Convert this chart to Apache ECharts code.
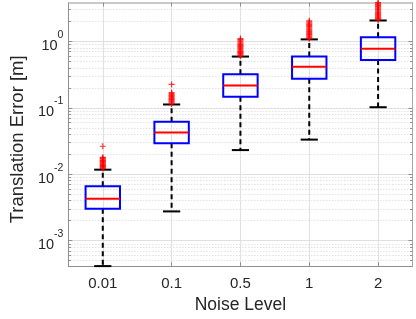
<!DOCTYPE html>
<html>
<head>
<meta charset="utf-8">
<script src="https://cdn.jsdelivr.net/npm/echarts@6/dist/echarts.min.js"></script>
<style>
html,body{margin:0;padding:0;background:#fff;}
#chart{width:416px;height:319px;}
</style>
</head>
<body>
<div id="chart"></div>
<script>
// ---- data ----
const categories = ['0.01', '0.1', '0.5', '1', '2'];
const lowerWhisker = [0.000415, 0.00276, 0.0231, 0.0332, 0.102];
const q1 = [0.00303, 0.0293, 0.147, 0.273, 0.526];
const median = [0.00429, 0.0425, 0.216, 0.415, 0.773];
const q3 = [0.00659, 0.0616, 0.321, 0.590, 1.15];
const upperWhisker = [0.01172, 0.1122, 0.590, 1.07, 2.06];
const outliers001 = [0.0122, 0.0125, 0.0128, 0.0131, 0.0134, 0.0137, 0.0140, 0.0144, 0.0148, 0.0152, 0.0156, 0.0160, 0.0165, 0.0170, 0.0175, 0.0180, 0.0264];
const outliers01 = [0.114, 0.118, 0.122, 0.126, 0.130, 0.134, 0.138, 0.143, 0.148, 0.153, 0.158, 0.164, 0.170, 0.225];
const outliers05 = [0.60, 0.62, 0.64, 0.66, 0.68, 0.70, 0.72, 0.75, 0.78, 0.81, 0.84, 0.87, 0.90, 0.94, 0.98, 1.02, 1.06, 1.10];
const outliers1 = [1.09, 1.13, 1.17, 1.21, 1.26, 1.31, 1.36, 1.41, 1.47, 1.53, 1.59, 1.66, 1.73, 1.80, 1.88, 1.96, 2.04];
const outliers2 = [2.10, 2.17, 2.24, 2.32, 2.40, 2.48, 2.57, 2.66, 2.76, 2.86, 2.97, 3.08, 3.20, 3.33, 3.46, 3.60, 3.75, 3.84];
const yTickValues = [0.001, 0.01, 0.1, 1];
const xAxisName = 'Noise Level';
const yAxisName = 'Translation Error [m]';

// ---- build ----
const outlierLists = [outliers001, outliers01, outliers05, outliers1, outliers2];
const boxData = categories.map((c, i) => [i, lowerWhisker[i], q1[i], median[i], q3[i], upperWhisker[i]]);
const outlierData = [];
outlierLists.forEach((list, i) => list.forEach(v => outlierData.push([i, v])));
const allOut = [].concat(...outlierLists);
const yMin = Math.min(...lowerWhisker);
const yMax = Math.max(...allOut);

const minorValues = [];
for (let k = -4; k <= 0; k++) {
  for (let m = 2; m <= 9; m++) {
    const v = m * Math.pow(10, k);
    if (v > yMin && v < yMax) minorValues.push(v);
  }
}

const FONT = 'Liberation Sans';
const TXT = '#262626';
const AXC = '#8f8f8f';
const GRIDC = '#e0e0e0';
const MINORC = '#d4d4d4';

function yFmt(v) {
  const e = Math.round(Math.log10(v));
  return '{b|10}{s|' + e + '}';
}

const logBase = {
  type: 'log', logBase: 10, min: yMin, max: yMax,
};

const option = {
  animation: false,
  backgroundColor: '#fff',
  grid: { left: 59.5, right: 3.5, top: 2.5, bottom: 46.5, containLabel: false },
  xAxis: [
    {
      type: 'category', data: categories, position: 'bottom', boundaryGap: true,
      name: xAxisName, nameLocation: 'middle', nameGap: 28,
      nameTextStyle: { fontFamily: FONT, fontSize: 17.5, color: TXT },
      axisLine: { show: true, lineStyle: { color: AXC, width: 1 } },
      axisTick: { show: true, inside: true, alignWithLabel: true, length: 4, lineStyle: { color: AXC } },
      axisLabel: { fontFamily: FONT, fontSize: 15, color: TXT, margin: 10 },
      splitLine: { show: true, alignWithLabel: true, lineStyle: { color: GRIDC, width: 1 } }
    },
    {
      type: 'category', data: categories, position: 'top', boundaryGap: true,
      axisLine: { show: true, lineStyle: { color: '#b8b8b8', width: 1.5 } },
      axisTick: { show: true, inside: true, alignWithLabel: true, length: 4, lineStyle: { color: AXC } },
      axisLabel: { show: false },
      splitLine: { show: false }
    }
  ],
  yAxis: [
    Object.assign({}, logBase, {
      position: 'left',
      name: yAxisName, nameLocation: 'middle', nameGap: 34, nameRotate: 90,
      nameTextStyle: { fontFamily: FONT, fontSize: 18.5, color: TXT, padding: [0, 10, 0, 0] },
      axisLine: { show: true, lineStyle: { color: AXC, width: 1 } },
      axisTick: { show: true, inside: true, length: 4, customValues: yTickValues, lineStyle: { color: AXC } },
      axisLabel: {
        customValues: yTickValues, margin: 5, formatter: yFmt, color: TXT,
        rich: {
          b: { fontFamily: FONT, fontSize: 14.5, color: TXT, lineHeight: 24, verticalAlign: 'bottom' },
          s: { fontFamily: FONT, fontSize: 10.5, color: TXT, lineHeight: 24, verticalAlign: 'top' }
        }
      },
      splitLine: { show: true, customValues: yTickValues, lineStyle: { color: GRIDC, width: 1 } }
    }),
    Object.assign({}, logBase, {
      position: 'right',
      axisLine: { show: true, lineStyle: { color: '#a8a8a8', width: 1 } },
      axisTick: { show: true, inside: true, length: 4, customValues: yTickValues, lineStyle: { color: AXC } },
      axisLabel: { show: false },
      splitLine: { show: false }
    }),
    Object.assign({}, logBase, {
      position: 'left',
      axisLine: { show: false },
      axisTick: { show: true, inside: true, length: 2.5, customValues: minorValues, lineStyle: { color: AXC } },
      axisLabel: { show: false },
      splitLine: { show: true, customValues: minorValues, lineStyle: { color: MINORC, width: 1, type: [1, 2] } }
    }),
    Object.assign({}, logBase, {
      position: 'right',
      axisLine: { show: false },
      axisTick: { show: true, inside: true, length: 2.5, customValues: minorValues, lineStyle: { color: AXC } },
      axisLabel: { show: false },
      splitLine: { show: false }
    })
  ],
  series: [
    {
      type: 'custom',
      xAxisIndex: 0, yAxisIndex: 0,
      clip: false,
      z: 5,
      data: boxData,
      encode: { x: 0, y: [1, 2, 3, 4, 5] },
      renderItem: function (params, api) {
        const xi = api.value(0);
        const band = api.size([1, 1])[0];
        const pLow = api.coord([xi, api.value(1)]);
        const pQ1 = api.coord([xi, api.value(2)]);
        const pMed = api.coord([xi, api.value(3)]);
        const pQ3 = api.coord([xi, api.value(4)]);
        const pHigh = api.coord([xi, api.value(5)]);
        const cx = pMed[0];
        const halfBox = band * 0.25;
        const halfCap = band * 0.125;
        const dash = { stroke: '#000', lineWidth: 2, lineDash: [5, 3.5] };
        const solid = { stroke: '#000', lineWidth: 2 };
        return {
          type: 'group',
          children: [
            { type: 'line', shape: { x1: cx, y1: pQ3[1], x2: cx, y2: pHigh[1] }, style: dash },
            { type: 'line', shape: { x1: cx, y1: pQ1[1], x2: cx, y2: pLow[1] }, style: dash },
            { type: 'line', shape: { x1: cx - halfCap, y1: pHigh[1], x2: cx + halfCap, y2: pHigh[1] }, style: solid },
            { type: 'line', shape: { x1: cx - halfCap, y1: pLow[1], x2: cx + halfCap, y2: pLow[1] }, style: solid },
            { type: 'rect', shape: { x: cx - halfBox, y: pQ3[1], width: halfBox * 2, height: pQ1[1] - pQ3[1] },
              style: { fill: 'none', stroke: '#0000ff', lineWidth: 2 } },
            { type: 'line', shape: { x1: cx - halfBox, y1: pMed[1], x2: cx + halfBox, y2: pMed[1] },
              style: { stroke: '#ff0000', lineWidth: 2 } }
          ]
        };
      }
    },
    {
      type: 'scatter',
      xAxisIndex: 0, yAxisIndex: 0,
      clip: false,
      z: 6,
      symbol: 'path://M4,0H6V4H10V6H6V10H4V6H0V4H4Z',
      symbolSize: 6,
      itemStyle: { color: '#ff0000' },
      data: outlierData
    }
  ]
};

const chart = echarts.init(document.getElementById('chart'), null, { renderer: 'canvas' });
chart.setOption(option);
</script>
</body>
</html>
